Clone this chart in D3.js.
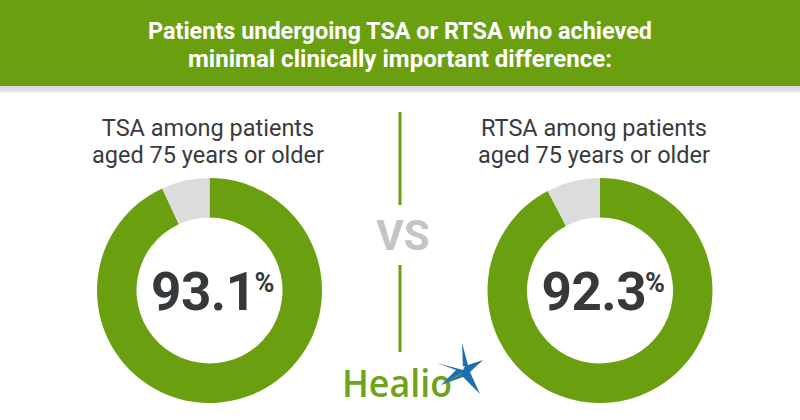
<!DOCTYPE html>
<html><head><meta charset="utf-8">
<script src="https://cdn.jsdelivr.net/npm/d3@7/dist/d3.min.js"></script>
<style>html,body{margin:0;padding:0;background:#fff;}svg{display:block;font-family:Roboto,"Noto Sans",sans-serif;}</style>
</head><body>
<svg id="c" width="800" height="420"></svg>
<script>
const titleLines = ["Patients undergoing TSA or RTSA who achieved", "minimal clinically important difference:"];
const groups = ["TSA", "RTSA"];
const subtitleLines = [["TSA among patients", "aged 75 years or older"], ["RTSA among patients", "aged 75 years or older"]];
const achieved = [93.1, 92.3];
const notAchieved = [6.9, 7.7];
const sliceLabels = ["Achieved MCID", "Did not achieve"];

const GREEN = "#6a9f10", GREY = "#dcdcdc", DARK = "#35393b";
const svg = d3.select("#c");

// header
svg.append("rect").attr("x",0).attr("y",0).attr("width",800).attr("height",86).attr("fill",GREEN);
const grad = svg.append("defs").append("linearGradient").attr("id","g1").attr("x1",0).attr("x2",0).attr("y1",0).attr("y2",1);
grad.append("stop").attr("offset","0%").attr("stop-color","#d9d9d9");
grad.append("stop").attr("offset","70%").attr("stop-color","#e2e2e2");
grad.append("stop").attr("offset","100%").attr("stop-color","#fafafa");
svg.append("rect").attr("x",0).attr("y",86).attr("width",800).attr("height",7).attr("fill","url(#g1)");

const titleW = [504, 424];
titleLines.forEach((t,i)=>{
  svg.append("text").attr("x",400).attr("y",39+i*28).attr("text-anchor","middle")
    .attr("fill","#fff").attr("font-size",24).attr("font-weight",700)
    .attr("textLength",titleW[i]).attr("lengthAdjust","spacingAndGlyphs").text(t);
});

// positions
const x = d3.scalePoint().domain(groups).range([209.5, 600]);
const subX = d3.scalePoint().domain(groups).range([208, 594]);
const cy = 290.5;
const arc = d3.arc().innerRadius(73).outerRadius(112.5);
const pie = d3.pie().sort(null).value(d=>d.v);

groups.forEach((g,i)=>{
  subtitleLines[i].forEach((t,j)=>{
    svg.append("text").attr("x",subX(g)).attr("y",136+j*27).attr("text-anchor","middle")
      .attr("fill","#3a3a3a").attr("font-size",23.5).text(t);
  });
  const data = [{k:sliceLabels[0], v:achieved[i]},{k:sliceLabels[1], v:notAchieved[i]}];
  const gg = svg.append("g").attr("transform",`translate(${x(g)},${cy})`);
  gg.selectAll("path").data(pie(data)).join("path").attr("d",arc)
    .attr("fill",(d,k)=>k===0?GREEN:GREY);
  const t = gg.append("text").attr("x",3).attr("y",19.5).attr("text-anchor","middle")
    .attr("fill",DARK).attr("font-weight",700).attr("font-size",53).attr("letter-spacing",-0.5);
  t.append("tspan").text(achieved[i].toFixed(1));
  t.append("tspan").attr("font-size",27).attr("dy",-18).attr("dx",-1).text("%");
});

// divider and VS
svg.append("line").attr("x1",400).attr("x2",400).attr("y1",112).attr("y2",205).attr("stroke",GREEN).attr("stroke-width",3);
svg.append("line").attr("x1",400).attr("x2",400).attr("y1",265).attr("y2",352).attr("stroke",GREEN).attr("stroke-width",3);
svg.append("text").attr("x",403).attr("y",250).attr("text-anchor","middle").attr("fill","#c4c4c4")
  .attr("font-size",42).attr("font-weight",700).text("VS");

// logo
svg.append("text").attr("x",342).attr("y",397).attr("fill","#6fa31c").attr("font-size",38).attr("font-weight",600)
  .attr("font-family","'Open Sans',sans-serif").attr("textLength",110).attr("lengthAdjust","spacingAndGlyphs").text("Healio");
const star = svg.append("g").attr("transform","translate(463,370)");
star.append("path").attr("d","M0,0 L-1,-27 L5,-5 L20,-10 L7,2 L17,24 L0,7 L-22,15 L-7,0 L-26,-7 Z").attr("fill","#1f6eb0");
star.append("path").attr("d","M0,2 L-22,15 L-4,6 Z").attr("fill","#6fa31c");
star.append("path").attr("d","M0,0 L-3,-3 L2,-4 Z").attr("fill","#fff");
</script>
</body></html>
